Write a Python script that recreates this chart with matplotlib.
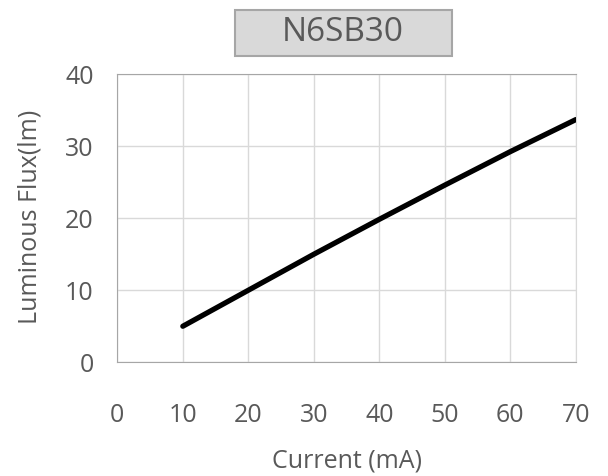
import matplotlib.pyplot as plt

plt.rcParams['font.family'] = ['Open Sans', 'DejaVu Sans']

current = [10, 20, 30, 40, 50, 60, 70]
flux = [5.0, 10.0, 15.0, 19.85, 24.6, 29.25, 33.7]
x_ticks = [0, 10, 20, 30, 40, 50, 60, 70]
y_ticks = [0, 10, 20, 30, 40]
title = "N6SB30"

txt = '#595959'

fig = plt.figure(figsize=(6.08, 4.76), dpi=100)
ax = fig.add_axes([0.193, 0.239, 0.754, 0.605])

ax.plot(current, flux, color='black', lw=3.8, solid_capstyle='round', zorder=3)

ax.set_xlim(0, 70)
ax.set_ylim(0, 40)
ax.set_xticks(x_ticks)
ax.set_yticks(y_ticks)
ax.grid(True, color='#d9d9d9', lw=1)
ax.set_axisbelow(True)
for s in ['left', 'bottom', 'top']:
    ax.spines[s].set_color('#a6a6a6')
ax.spines['right'].set_color('#d9d9d9')
ax.tick_params(length=0, labelsize=18, colors=txt)
ax.tick_params(axis='x', pad=29)
ax.tick_params(axis='y', pad=17)

# axis titles placed like the original
fig.text(0.571, 0.031, 'Current (mA)', ha='center', va='center', fontsize=18, color=txt)
fig.text(0.05, 0.545, 'Luminous Flux(lm)', ha='center', va='center', fontsize=18,
         color=txt, rotation=90)

# title in a grey box
fig.patches.append(plt.Rectangle((235 / 608, 1 - 56 / 476), 217 / 608, 46 / 476,
                                 transform=fig.transFigure, fc='#d9d9d9', ec='#a6a6a6', lw=1.5))
fig.text(0.564, 0.931, title, ha='center', va='center', fontsize=24, color=txt)

fig.savefig('out.png', dpi=100)
